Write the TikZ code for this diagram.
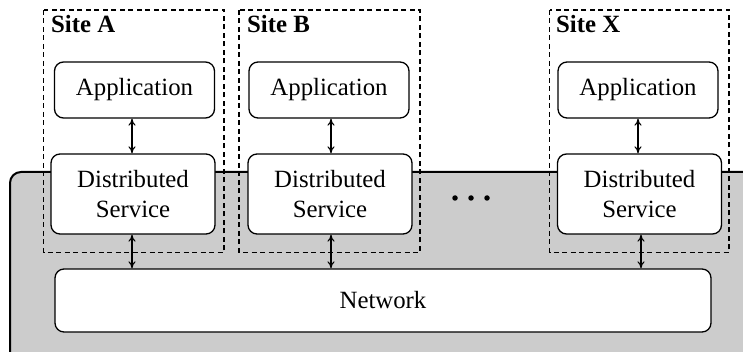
\documentclass[tikz,border=0pt]{standalone}
\usepackage{fontspec}
\setmainfont{LiberationSerif}[
  Extension=.ttf,
  UprightFont=*-Regular,
  BoldFont=*-Bold,
  ItalicFont=*-Italic,
  BoldItalicFont=*-BoldItalic]
\usetikzlibrary{arrows.meta}
\begin{document}
\begin{tikzpicture}[x=1pt,y=-1pt,
  every node/.style={font=\fontsize{24.8}{29.5}\selectfont},
  sitebox/.style={draw,dashed,line width=1.1pt,dash pattern=on 5pt off 3.5pt},
  appbox/.style={draw,fill=white,line width=1.3pt,rounded corners=9pt,
    minimum width=160pt,minimum height=56pt,inner sep=0pt},
  svcbox/.style={appbox,minimum width=164pt,minimum height=80pt,align=center},
  netbox/.style={appbox,minimum width=656pt,minimum height=63pt},
  sitelabel/.style={anchor=base west,inner sep=0pt,font=\fontsize{24.8}{29.5}\selectfont\bfseries},
  link/.style={line width=1.1pt,{To[length=7pt,width=7pt]}-{To[length=7pt,width=7pt]}},
  dot/.style={circle,fill=black,inner sep=0pt,minimum size=5.5pt}
]
\useasboundingbox (0,0) rectangle (743,352);
% shared grey area below the line
\draw[fill=black!20,line width=2pt,rounded corners=11pt] (10,172) rectangle (780,375);

% sites
\draw[sitebox] (43.5,10) rectangle (224,252.5);
\draw[sitebox] (239,10) rectangle (420,252.5);
\draw[sitebox] (549.5,10) rectangle (729,252.5);
\node[sitelabel] (la) at (51,33) {Site A};
\node[sitelabel] (lb) at (247,33) {Site B};
\node[sitelabel] (lx) at (556,33) {Site X};

% applications
\node[appbox] (appA) at (134.5,90) {Application};
\node[appbox] (appB) at (329,90) {Application};
\node[appbox] (appX) at (638,90) {Application};

% distributed services
\node[svcbox] (dsA) at (133,194) {Distributed\\Service};
\node[svcbox] (dsB) at (330,194) {Distributed\\Service};
\node[svcbox] (dsX) at (639.5,194) {Distributed\\Service};

% network
\node[netbox] (net) at (383,300.5) {Network};

% links
\draw[link] (appA.south -| 132,0) -- (dsA.north -| 132,0);
\draw[link] (appB.south -| 331,0) -- (dsB.north -| 331,0);
\draw[link] (appX.south -| 638,0) -- (dsX.north -| 638,0);
\draw[link] (dsA.south -| 132,0) -- (net.north -| 132,0);
\draw[link] (dsB.south -| 331,0) -- (net.north -| 331,0);
\draw[link] (dsX.south -| 641,0) -- (net.north -| 641,0);

% ellipsis
\node[dot] (d1) at (455,198) {};
\node[dot] (d2) at (471,198) {};
\node[dot] (d3) at (487,198) {};
\end{tikzpicture}
\end{document}
